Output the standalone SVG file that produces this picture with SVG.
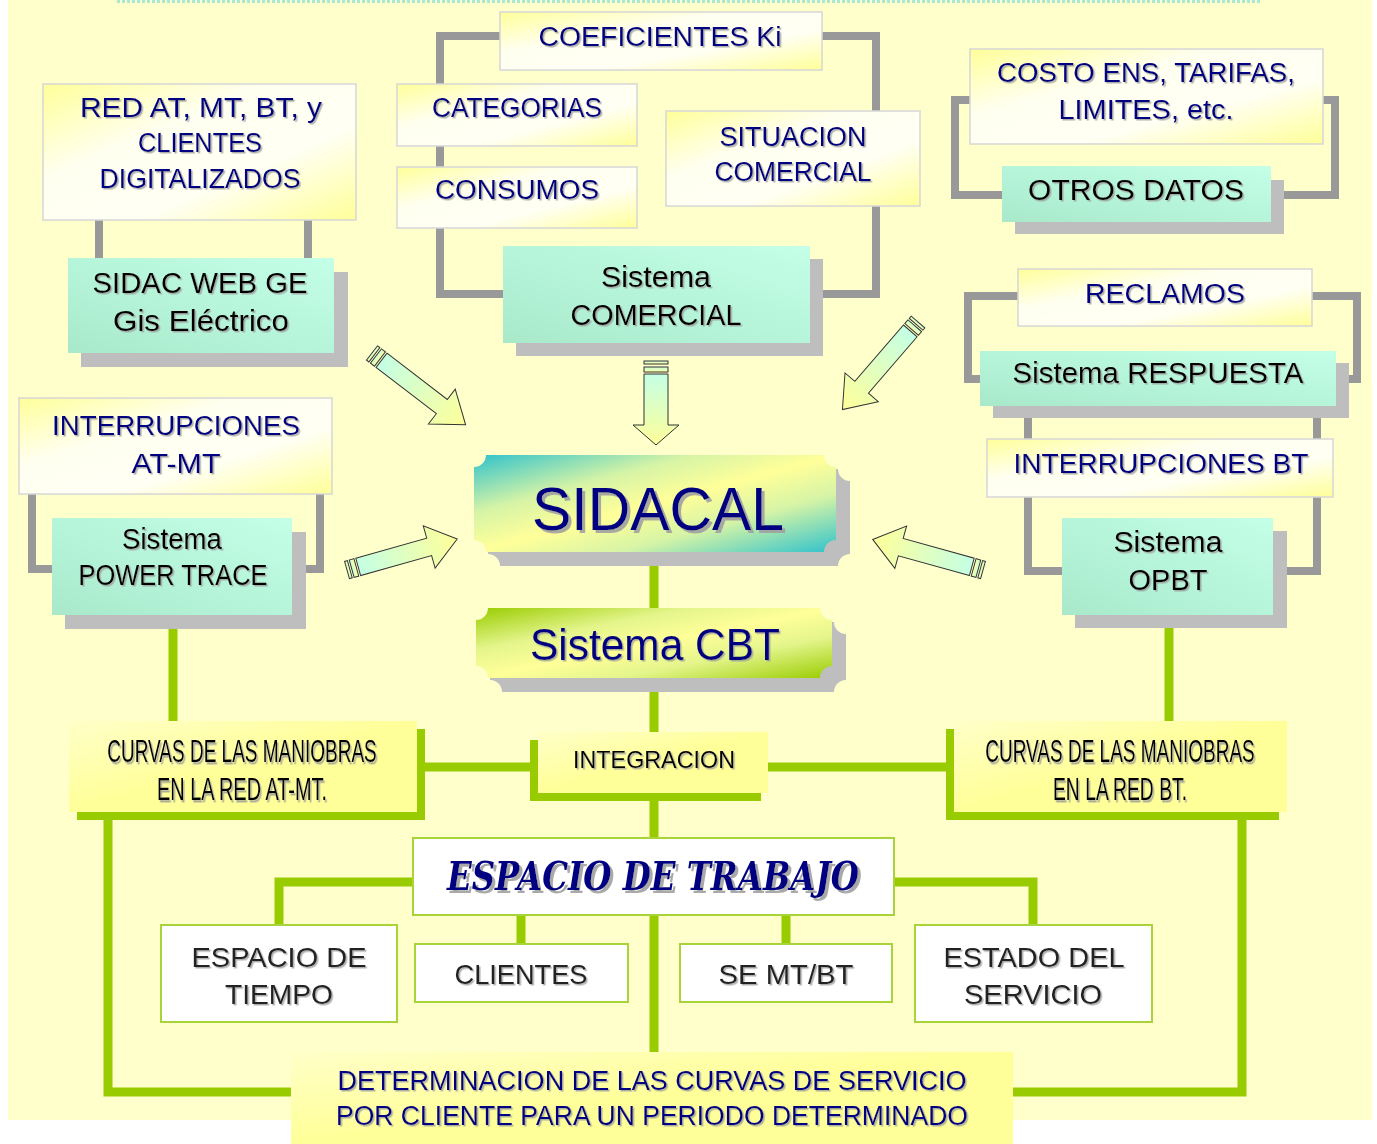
<svg xmlns="http://www.w3.org/2000/svg" width="1377" height="1144" viewBox="0 0 1377 1144">
<defs>
<linearGradient id="gYW" x1="0" y1="0" x2="1" y2="1">
<stop offset="0" stop-color="#FFFF99"/><stop offset="0.35" stop-color="#FFFFF0"/><stop offset="0.65" stop-color="#FFFFF4"/><stop offset="1" stop-color="#FFFF99"/>
</linearGradient>
<linearGradient id="gMint" x1="0" y1="1" x2="1" y2="0">
<stop offset="0" stop-color="#A9E9CA"/><stop offset="0.5" stop-color="#B6F5DA"/><stop offset="1" stop-color="#C4FFE8"/>
</linearGradient>
<linearGradient id="gSid" x1="0" y1="0" x2="1" y2="1">
<stop offset="0" stop-color="#30C2CC"/><stop offset="0.3" stop-color="#D6F4A6"/><stop offset="0.5" stop-color="#FFFF99"/><stop offset="0.7" stop-color="#D6F4A6"/><stop offset="1" stop-color="#30C2CC"/>
</linearGradient>
<linearGradient id="gCbt" x1="0" y1="0" x2="1" y2="1">
<stop offset="0" stop-color="#99CC00"/><stop offset="0.3" stop-color="#E4F58C"/><stop offset="0.5" stop-color="#FFFF99"/><stop offset="0.7" stop-color="#E4F58C"/><stop offset="1" stop-color="#99CC00"/>
</linearGradient>
<linearGradient id="gYel" x1="0" y1="0" x2="1" y2="1">
<stop offset="0" stop-color="#FFFFC8"/><stop offset="0.5" stop-color="#FFFF99"/><stop offset="1" stop-color="#FFFF99"/>
</linearGradient>
<linearGradient id="gArr" x1="0" y1="0" x2="1" y2="0">
<stop offset="0" stop-color="#C4FFE4"/><stop offset="1" stop-color="#FFFF99"/>
</linearGradient>
<filter id="sh" x="-5%" y="-20%" width="110%" height="140%">
<feDropShadow dx="1.5" dy="1.5" stdDeviation="0" flood-color="#9A9A9A" flood-opacity="0.8"/>
</filter>
<filter id="shBig" x="-5%" y="-20%" width="110%" height="140%">
<feDropShadow dx="3" dy="3" stdDeviation="0" flood-color="#A0A0A0" flood-opacity="0.9"/>
</filter>
<g id="arrowDiag">
<rect x="0" y="-9" width="3" height="18"/>
<rect x="5" y="-9" width="5" height="18"/>
<path d="M12,-9 H88 V-22 L118,0 L88,22 V9 H12 Z"/>
</g>
</defs>
<style>
text{font-family:"Liberation Sans",Arial,sans-serif;text-anchor:middle;filter:url(#sh)}
.nv{fill:#000080;font-size:27px}
.bk{fill:#000;font-size:29px}
.gr{fill:#222;font-size:28px}
.cv{fill:#000;font-size:19px}
.yw{fill:url(#gYW);stroke:#D6D6D6;stroke-width:1.5}
.mint{fill:url(#gMint)}
.shd{fill:#BEBEBE}
.wb{fill:#FFFFFF;stroke:#A8D43A;stroke-width:2}
.yl{fill:url(#gYel)}
.gs{fill:#99CC00}
.grayc{fill:none;stroke:#999999;stroke-width:8}
.grn{fill:none;stroke:#99CC00;stroke-width:9}
.arr{fill:url(#gArr);stroke:#333;stroke-width:1}
</style>
<rect x="0" y="0" width="1377" height="1144" fill="#FFFFFF"/>
<rect x="8" y="0" width="1364" height="1120" fill="#FFFFCC"/>
<line x1="117" y1="1.5" x2="1260" y2="1.5" stroke="#A8E8D4" stroke-width="3" stroke-dasharray="3,2"/>

<g id="connectors">
<rect class="grayc" x="99" y="150" width="209" height="150"/>
<rect class="grayc" x="440" y="36" width="436" height="258"/>
<rect class="grayc" x="955" y="100" width="380" height="95"/>
<rect class="grayc" x="968" y="296" width="389" height="83"/>
<rect class="grayc" x="1028" y="380" width="289" height="191"/>
<rect class="grayc" x="32" y="450" width="288" height="119"/>
<line class="grn" x1="654" y1="560" x2="654" y2="740"/>
<line class="grn" x1="654" y1="795" x2="654" y2="1056"/>
<line class="grn" x1="173" y1="625" x2="173" y2="725"/>
<line class="grn" x1="1169" y1="625" x2="1169" y2="725"/>
<line class="grn" x1="420" y1="767" x2="535" y2="767"/>
<line class="grn" x1="765" y1="767" x2="950" y2="767"/>
<polyline class="grn" points="108,815 108,1092 295,1092"/>
<polyline class="grn" points="1242,815 1242,1092 1010,1092"/>
<polyline class="grn" points="416,882 279,882 279,928"/>
<polyline class="grn" points="891,882 1033,882 1033,928"/>
<line class="grn" x1="521" y1="912" x2="521" y2="947"/>
<line class="grn" x1="786" y1="912" x2="786" y2="947"/>
<g class="arr">
<use href="#arrowDiag" transform="translate(372,353) rotate(37.5)"/>
<use href="#arrowDiag" transform="translate(918,322) rotate(130.8) scale(0.98,1)"/>
<use href="#arrowDiag" transform="translate(347,570) rotate(-15.7) scale(0.97,1)"/>
<use href="#arrowDiag" transform="translate(983,570) rotate(195.5) scale(0.97,1)"/>
<g transform="translate(656,361) rotate(90)">
<rect x="0" y="-12" width="3" height="24"/>
<rect x="6" y="-12" width="5" height="24"/>
<path d="M13,-12 H64 V-23 L84,0 L64,23 V12 H13 Z"/>
</g>
</g>
</g>

<g id="n-red">
<rect class="yw" x="43" y="84" width="313" height="136"/>
<text class="nv" x="201" y="117" textLength="242" lengthAdjust="spacingAndGlyphs">RED AT, MT, BT, y</text>
<text class="nv" x="200" y="152" textLength="124" lengthAdjust="spacingAndGlyphs">CLIENTES</text>
<text class="nv" x="200" y="188" textLength="201" lengthAdjust="spacingAndGlyphs">DIGITALIZADOS</text>
</g>
<g id="n-sidac">
<rect class="shd" x="81" y="272" width="267" height="95"/>
<rect class="mint" x="68" y="258" width="266" height="95"/>
<text class="bk" x="200" y="293" textLength="215" lengthAdjust="spacingAndGlyphs">SIDAC WEB GE</text>
<text class="bk" x="201" y="331" textLength="176" lengthAdjust="spacingAndGlyphs">Gis Eléctrico</text>
</g>
<g id="n-coef">
<rect class="yw" x="500" y="12" width="322" height="58"/>
<text class="nv" x="660" y="46" textLength="243" lengthAdjust="spacingAndGlyphs">COEFICIENTES Ki</text>
</g>
<g id="n-cat">
<rect class="yw" x="397" y="84" width="240" height="62"/>
<text class="nv" x="517" y="117" textLength="170" lengthAdjust="spacingAndGlyphs">CATEGORIAS</text>
</g>
<g id="n-cons">
<rect class="yw" x="397" y="167" width="240" height="61"/>
<text class="nv" x="517" y="199" textLength="164" lengthAdjust="spacingAndGlyphs">CONSUMOS</text>
</g>
<g id="n-sit">
<rect class="yw" x="666" y="111" width="254" height="95"/>
<text class="nv" x="793" y="146" textLength="147" lengthAdjust="spacingAndGlyphs">SITUACION</text>
<text class="nv" x="793" y="181" textLength="157" lengthAdjust="spacingAndGlyphs">COMERCIAL</text>
</g>
<g id="n-comercial">
<rect class="shd" x="516" y="259" width="307" height="97"/>
<rect class="mint" x="503" y="246" width="307" height="97"/>
<text class="bk" x="656" y="287" textLength="110" lengthAdjust="spacingAndGlyphs">Sistema</text>
<text class="bk" x="656" y="325" textLength="171" lengthAdjust="spacingAndGlyphs">COMERCIAL</text>
</g>
<g id="n-costo">
<rect class="yw" x="970" y="49" width="353" height="95"/>
<text class="nv" x="1146" y="82" textLength="298" lengthAdjust="spacingAndGlyphs">COSTO ENS, TARIFAS,</text>
<text class="nv" x="1146" y="119" textLength="175" lengthAdjust="spacingAndGlyphs">LIMITES, etc.</text>
</g>
<g id="n-otros">
<rect class="shd" x="1015" y="180" width="269" height="54"/>
<rect class="mint" x="1002" y="166" width="269" height="56"/>
<text class="bk" x="1136" y="200" textLength="216" lengthAdjust="spacingAndGlyphs">OTROS DATOS</text>
</g>
<g id="n-recl">
<rect class="yw" x="1018" y="269" width="294" height="57"/>
<text class="nv" x="1165" y="303" textLength="160" lengthAdjust="spacingAndGlyphs">RECLAMOS</text>
</g>
<g id="n-resp">
<rect class="shd" x="993" y="363" width="356" height="55"/>
<rect class="mint" x="980" y="351" width="356" height="55"/>
<text class="bk" x="1158" y="383" textLength="291" lengthAdjust="spacingAndGlyphs">Sistema RESPUESTA</text>
</g>
<g id="n-intbt">
<rect class="yw" x="987" y="439" width="346" height="58"/>
<text class="nv" x="1161" y="473" textLength="295" lengthAdjust="spacingAndGlyphs">INTERRUPCIONES BT</text>
</g>
<g id="n-opbt">
<rect class="shd" x="1075" y="531" width="212" height="97"/>
<rect class="mint" x="1062" y="518" width="211" height="97"/>
<text class="bk" x="1168" y="552" textLength="109" lengthAdjust="spacingAndGlyphs">Sistema</text>
<text class="bk" x="1168" y="590" textLength="79" lengthAdjust="spacingAndGlyphs">OPBT</text>
</g>
<g id="n-intatmt">
<rect class="yw" x="19" y="398" width="313" height="96"/>
<text class="nv" x="176" y="435" textLength="248" lengthAdjust="spacingAndGlyphs">INTERRUPCIONES</text>
<text class="nv" x="176" y="473" textLength="89" lengthAdjust="spacingAndGlyphs">AT-MT</text>
</g>
<g id="n-power">
<rect class="shd" x="65" y="532" width="241" height="97"/>
<rect class="mint" x="52" y="518" width="240" height="97"/>
<text class="bk" x="172" y="549" textLength="100" lengthAdjust="spacingAndGlyphs">Sistema</text>
<text class="bk" x="173" y="585" textLength="189" lengthAdjust="spacingAndGlyphs">POWER TRACE</text>
</g>
<g id="n-sidacal">
<path class="shd" d="M500,469 H838 A12,12 0 0 0 850,481 V554 A12,12 0 0 0 838,566 H500 A12,12 0 0 0 488,554 V481 A12,12 0 0 0 500,469 Z"/>
<path fill="url(#gSid)" d="M486,455 H824 A12,12 0 0 0 836,467 V540 A12,12 0 0 0 824,552 H486 A12,12 0 0 0 474,540 V467 A12,12 0 0 0 486,455 Z"/>
<text x="658" y="530" font-size="62" fill="#000080" textLength="252" lengthAdjust="spacingAndGlyphs" style="filter:url(#shBig)">SIDACAL</text>
</g>
<g id="n-cbt">
<path class="shd" d="M502,622 H834 A12,12 0 0 0 846,634 V680 A12,12 0 0 0 834,692 H502 A12,12 0 0 0 490,680 V634 A12,12 0 0 0 502,622 Z"/>
<path fill="url(#gCbt)" d="M488,608 H820 A12,12 0 0 0 832,620 V666 A12,12 0 0 0 820,678 H488 A12,12 0 0 0 476,666 V620 A12,12 0 0 0 488,608 Z"/>
<text x="655" y="660" font-size="44" fill="#000080" textLength="250" lengthAdjust="spacingAndGlyphs">Sistema CBT</text>
</g>
<g id="n-curvas-atmt">
<rect class="gs" x="77" y="729" width="348" height="91"/>
<rect class="yl" x="69" y="721" width="348" height="91"/>
<text class="cv" transform="translate(242,762) scale(1,1.65)" x="0" y="0">CURVAS DE LAS MANIOBRAS</text>
<text class="cv" transform="translate(242,800) scale(1,1.65)" x="0" y="0" textLength="170" lengthAdjust="spacingAndGlyphs">EN LA RED AT-MT.</text>
</g>
<g id="n-integ">
<rect class="gs" x="530" y="740" width="231" height="61"/>
<rect class="yl" x="538" y="732" width="230" height="61"/>
<text x="654" y="768" font-size="24" fill="#000" textLength="162" lengthAdjust="spacingAndGlyphs">INTEGRACION</text>
</g>
<g id="n-curvas-bt">
<rect class="gs" x="946" y="729" width="333" height="91"/>
<rect class="yl" x="954" y="721" width="333" height="91"/>
<text class="cv" transform="translate(1120,762) scale(1,1.65)" x="0" y="0">CURVAS DE LAS MANIOBRAS</text>
<text class="cv" transform="translate(1120,800) scale(1,1.65)" x="0" y="0" textLength="134" lengthAdjust="spacingAndGlyphs">EN LA RED BT.</text>
</g>
<g id="n-espacio">
<rect class="wb" x="413" y="838" width="481" height="77"/>
<text x="653" y="890" font-style="italic" font-weight="bold" font-size="40" fill="#000080" textLength="412" lengthAdjust="spacingAndGlyphs" style="font-family:'DejaVu Serif',serif;filter:url(#shBig)">ESPACIO DE TRABAJO</text>
</g>
<g id="n-tiempo">
<rect class="wb" x="161" y="925" width="236" height="97"/>
<text class="gr" x="279" y="967" textLength="175" lengthAdjust="spacingAndGlyphs">ESPACIO DE</text>
<text class="gr" x="279" y="1004" textLength="108" lengthAdjust="spacingAndGlyphs">TIEMPO</text>
</g>
<g id="n-clientes">
<rect class="wb" x="415" y="944" width="213" height="58"/>
<text class="gr" x="521" y="984" textLength="133" lengthAdjust="spacingAndGlyphs">CLIENTES</text>
</g>
<g id="n-se">
<rect class="wb" x="680" y="944" width="212" height="58"/>
<text class="gr" x="786" y="984" textLength="135" lengthAdjust="spacingAndGlyphs">SE MT/BT</text>
</g>
<g id="n-estado">
<rect class="wb" x="915" y="925" width="237" height="97"/>
<text class="gr" x="1034" y="967" textLength="181" lengthAdjust="spacingAndGlyphs">ESTADO DEL</text>
<text class="gr" x="1033" y="1004" textLength="138" lengthAdjust="spacingAndGlyphs">SERVICIO</text>
</g>
<g id="n-determ">
<rect class="yl" x="291" y="1052" width="722" height="92"/>
<text class="nv" x="652" y="1090" textLength="629" lengthAdjust="spacingAndGlyphs">DETERMINACION DE LAS CURVAS DE SERVICIO</text>
<text class="nv" x="652" y="1125" textLength="632" lengthAdjust="spacingAndGlyphs">POR CLIENTE PARA UN PERIODO DETERMINADO</text>
</g>
</svg>
